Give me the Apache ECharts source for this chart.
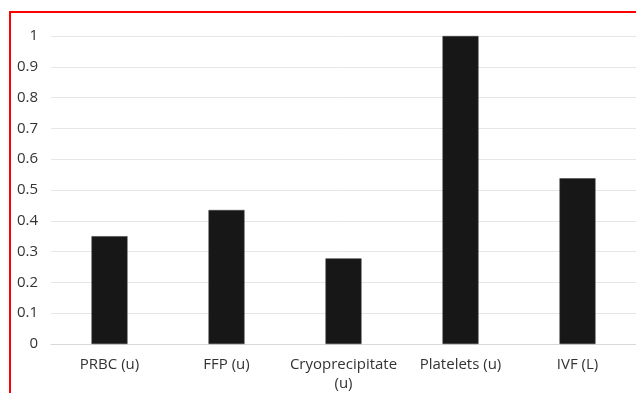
<!DOCTYPE html>
<html>
<head>
<meta charset="utf-8">
<script src="https://cdn.jsdelivr.net/npm/echarts@6/dist/echarts.min.js"></script>
<style>
  html, body { margin: 0; padding: 0; background: #fff; }
  #chart { width: 636px; height: 393px; }
</style>
</head>
<body>
<div id="chart"></div>
<script>
// data
const categories = ["PRBC (u)", "FFP (u)", "Cryoprecipitate (u)", "Platelets (u)", "IVF (L)"];
const values = [0.35, 0.435, 0.278, 1.0, 0.538];
const yTicks = [0, 0.1, 0.2, 0.3, 0.4, 0.5, 0.6, 0.7, 0.8, 0.9, 1];

const font = "'Open Sans', sans-serif";
const chart = echarts.init(document.getElementById("chart"));

chart.setOption({
  animation: false,
  backgroundColor: "#fff",
  grid: { left: 51, right: 0, top: 36, bottom: 48 },
  xAxis: {
    type: "category",
    data: categories,
    axisTick: { show: false },
    axisLine: { lineStyle: { color: "#d9d9d9", width: 1 } },
    axisLabel: {
      color: "#333333",
      fontFamily: font,
      fontSize: 15,
      lineHeight: 19,
      margin: 11,
      interval: 0,
      formatter: function (v) {
        return v.length > 14 ? v.replace(" ", "\n") : v;
      }
    }
  },
  yAxis: {
    type: "value",
    min: yTicks[0],
    max: yTicks[yTicks.length - 1],
    interval: 0.1,
    axisLine: { show: false },
    axisTick: { show: false },
    splitLine: { lineStyle: { color: "#e6e6e6", width: 1 } },
    axisLabel: {
      color: "#333333",
      fontFamily: font,
      fontSize: 15,
      margin: 13,
      formatter: function (v) {
        return String(Math.round(v * 10) / 10);
      }
    }
  },
  series: [{
    type: "bar",
    data: values,
    barWidth: 36,
    itemStyle: { color: "#171717", borderColor: "#3a3a3a", borderWidth: 0.5 }
  }],
  graphic: [{
    type: "polyline",
    silent: true,
    shape: { points: [[10, 393], [10, 12], [636, 12]] },
    style: { stroke: "#ff0000", lineWidth: 2, fill: null }
  }]
});
</script>
</body>
</html>
